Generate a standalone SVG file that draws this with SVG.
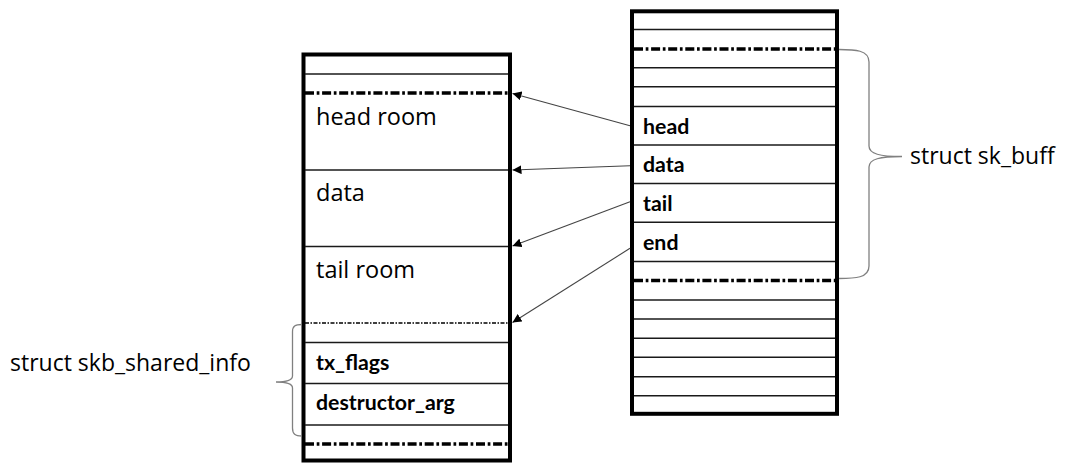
<svg xmlns="http://www.w3.org/2000/svg" width="1065" height="463" viewBox="0 0 1065 463">
  <defs>
    <marker id="arrow" viewBox="0 0 10 10" refX="10" refY="5" markerWidth="9" markerHeight="9" markerUnits="userSpaceOnUse" orient="auto">
      <path d="M0,0 L10,5 L0,10 z" fill="#000"/>
    </marker>
  </defs>
  <style>
    .frame { fill: #fff; stroke: #000; stroke-width: 4; }
    .row { stroke: #1a1a1a; stroke-width: 1.6; }
    .dd { stroke: #000; stroke-width: 3.5; stroke-dasharray: 9 2.7 2.7 2.7; }
    .dd-thin { stroke: #000; stroke-width: 1.3; stroke-dasharray: 4 1.5 1.5 1.5; }
    .big { font-family: "Open Sans", "Noto Sans", sans-serif; font-size: 23.5px; fill: #000; }
    .field { font-family: Lato, "Liberation Sans", sans-serif; font-weight: bold; font-size: 21.3px; fill: #000; }
    .note { font-family: "Open Sans", "Noto Sans", sans-serif; font-size: 23px; fill: #000; }
    .brace { fill: none; stroke: #808080; stroke-width: 1.3; }
    .link { stroke: #444; stroke-width: 1.1; fill: none; marker-end: url(#arrow); }
  </style>

  <!-- data buffer -->
  <g id="buffer">
    <rect class="frame" x="303.5" y="54.5" width="206.5" height="406"/>
    <line class="row" x1="305" y1="74" x2="508" y2="74"/>
    <line class="dd" x1="305" y1="93" x2="508" y2="93"/>
    <line class="row" x1="305" y1="170" x2="508" y2="170"/>
    <line class="row" x1="305" y1="246.5" x2="508" y2="246.5"/>
    <line class="dd-thin" x1="305" y1="323" x2="508" y2="323"/>
    <line class="row" x1="305" y1="342.5" x2="508" y2="342.5"/>
    <line class="row" x1="305" y1="383.5" x2="508" y2="383.5"/>
    <line class="row" x1="305" y1="425" x2="508" y2="425"/>
    <line class="dd" x1="305" y1="444" x2="508" y2="444"/>
    <text class="big" x="316" y="125">head room</text>
    <text class="big" x="316" y="201">data</text>
    <text class="big" x="316" y="278">tail room</text>
    <text class="field" x="316" y="370">tx_flags</text>
    <text class="field" x="316" y="410">destructor_arg</text>
  </g>

  <!-- struct sk_buff -->
  <g id="sk_buff">
    <rect class="frame" x="632" y="11.3" width="205" height="402.5"/>
    <line class="row" x1="634" y1="29.5" x2="835" y2="29.5"/>
    <line class="dd" x1="634" y1="49" x2="835" y2="49"/>
    <line class="row" x1="634" y1="67.7" x2="835" y2="67.7"/>
    <line class="row" x1="634" y1="86.7" x2="835" y2="86.7"/>
    <line class="row" x1="634" y1="106.5" x2="835" y2="106.5"/>
    <line class="row" x1="634" y1="145" x2="835" y2="145"/>
    <line class="row" x1="634" y1="183.5" x2="835" y2="183.5"/>
    <line class="row" x1="634" y1="222.3" x2="835" y2="222.3"/>
    <line class="row" x1="634" y1="261.5" x2="835" y2="261.5"/>
    <line class="dd" x1="634" y1="280.5" x2="835" y2="280.5"/>
    <line class="row" x1="634" y1="300" x2="835" y2="300"/>
    <line class="row" x1="634" y1="319" x2="835" y2="319"/>
    <line class="row" x1="634" y1="338.3" x2="835" y2="338.3"/>
    <line class="row" x1="634" y1="357.3" x2="835" y2="357.3"/>
    <line class="row" x1="634" y1="376.7" x2="835" y2="376.7"/>
    <line class="row" x1="634" y1="395.7" x2="835" y2="395.7"/>
    <text class="field" x="643" y="133.5">head</text>
    <text class="field" x="643" y="172">data</text>
    <text class="field" x="643" y="211">tail</text>
    <text class="field" x="643" y="249.5">end</text>
  </g>

  <!-- brace and label for struct sk_buff -->
  <g id="sk_buff_label">
    <path class="brace" d="M839,49.5 C855,49.5 869,50 869,62 L869,146 C869,154 880,156.5 902,156.5 C880,156.5 869,159 869,167 L869,266 C869,278 855,278.5 839,278.5"/>
    <text class="note" x="910" y="163.5">struct sk_buff</text>
  </g>

  <!-- brace and label for struct skb_shared_info -->
  <g id="shared_info_label">
    <path class="brace" d="M302,324.5 C295,324.5 292.5,326 292.5,332 L292.5,376 C292.5,380 288,382 276,382 C288,382 292.5,384 292.5,388 L292.5,428 C292.5,434 295,436 302,436"/>
    <text class="note" x="10" y="371">struct skb_shared_info</text>
  </g>

  <!-- pointers from sk_buff fields into the buffer -->
  <g id="connectors">
    <line class="link" x1="630" y1="125.7" x2="512.5" y2="93.5"/>
    <line class="link" x1="630" y1="165.7" x2="512.5" y2="170"/>
    <line class="link" x1="630" y1="201.7" x2="512.5" y2="246"/>
    <line class="link" x1="630" y1="248.3" x2="512.5" y2="322.5"/>
  </g>
</svg>
